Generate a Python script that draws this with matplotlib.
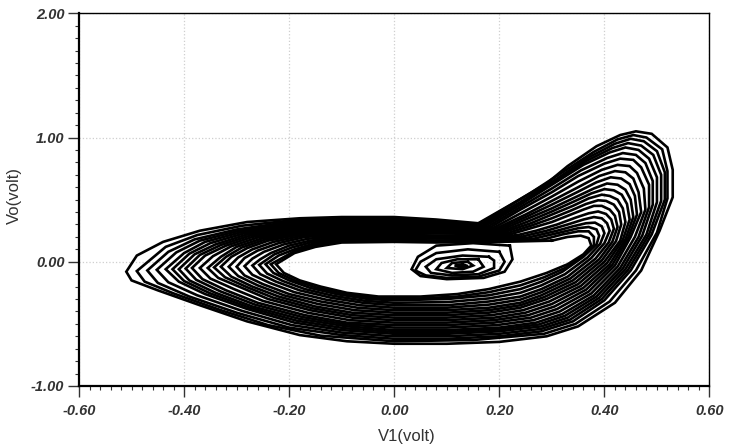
import matplotlib
matplotlib.use("Agg")
import matplotlib.pyplot as plt
from matplotlib.ticker import MultipleLocator, FormatStrFormatter

# loops of the attractor, (V1, Vo) in volt, outer to inner
loop_a = [(0.16, 0.31), (0.08, 0.34), (0.0, 0.36), (-0.10, 0.36), (-0.18, 0.35), (-0.28, 0.32),
          (-0.37, 0.25), (-0.44, 0.16), (-0.49, 0.05), (-0.51, -0.08), (-0.50, -0.15), (-0.45, -0.23),
          (-0.37, -0.35), (-0.28, -0.48), (-0.18, -0.59), (-0.09, -0.64), (0.0, -0.66), (0.10, -0.66),
          (0.20, -0.645), (0.29, -0.60), (0.35, -0.52), (0.42, -0.33), (0.47, -0.07), (0.505, 0.25),
          (0.53, 0.52), (0.53, 0.74), (0.52, 0.92), (0.49, 1.03), (0.46, 1.05), (0.43, 1.02),
          (0.385, 0.93), (0.33, 0.77), (0.29, 0.63), (0.23, 0.48), (0.16, 0.31)]
loop_ab = [(0.16, 0.30), (0.0, 0.35), (-0.10, 0.35), (-0.19, 0.335), (-0.29, 0.29), (-0.375, 0.215),
           (-0.435, 0.12), (-0.49, -0.075), (-0.475, -0.16), (-0.42, -0.255), (-0.33, -0.39),
           (-0.24, -0.51), (-0.14, -0.595), (0.0, -0.64), (0.15, -0.63), (0.285, -0.58), (0.345, -0.50),
           (0.41, -0.32), (0.46, -0.07), (0.50, 0.235), (0.52, 0.51), (0.52, 0.73), (0.51, 0.905),
           (0.48, 1.0), (0.455, 1.02), (0.425, 0.985), (0.38, 0.885), (0.32, 0.72), (0.26, 0.555),
           (0.16, 0.30)]
loop_b = [(0.16, 0.29), (0.08, 0.32), (0.0, 0.34), (-0.10, 0.34), (-0.20, 0.32), (-0.30, 0.26),
          (-0.38, 0.18), (-0.43, 0.08), (-0.47, -0.07), (-0.45, -0.17), (-0.39, -0.28), (-0.30, -0.41),
          (-0.20, -0.53), (-0.10, -0.59), (0.0, -0.62), (0.10, -0.62), (0.20, -0.60), (0.28, -0.56),
          (0.34, -0.48), (0.40, -0.31), (0.45, -0.07), (0.49, 0.22), (0.515, 0.50), (0.515, 0.72),
          (0.50, 0.89), (0.475, 0.97), (0.45, 0.99), (0.42, 0.95), (0.37, 0.84), (0.31, 0.67),
          (0.24, 0.48), (0.16, 0.29)]
loop_bc = [(0.165, 0.285), (0.0, 0.33), (-0.10, 0.33), (-0.20, 0.31), (-0.295, 0.25), (-0.37, 0.17),
           (-0.415, 0.075), (-0.452, -0.065), (-0.43, -0.165), (-0.375, -0.27), (-0.29, -0.395),
           (-0.195, -0.51), (-0.10, -0.57), (0.0, -0.60), (0.10, -0.60), (0.20, -0.58), (0.28, -0.54),
           (0.335, -0.465), (0.395, -0.30), (0.445, -0.065), (0.485, 0.22), (0.508, 0.49), (0.508, 0.70),
           (0.493, 0.86), (0.47, 0.935), (0.445, 0.955), (0.415, 0.915), (0.365, 0.81), (0.305, 0.645),
           (0.24, 0.47), (0.165, 0.285)]
loop_c = [(0.17, 0.28), (0.08, 0.31), (0.0, 0.32), (-0.10, 0.32), (-0.20, 0.30), (-0.29, 0.24),
          (-0.36, 0.16), (-0.40, 0.07), (-0.435, -0.06), (-0.41, -0.16), (-0.36, -0.26), (-0.28, -0.38),
          (-0.19, -0.49), (-0.10, -0.55), (0.0, -0.58), (0.10, -0.58), (0.20, -0.56), (0.28, -0.52),
          (0.33, -0.45), (0.39, -0.29), (0.44, -0.06), (0.48, 0.22), (0.50, 0.48), (0.50, 0.68),
          (0.485, 0.83), (0.465, 0.90), (0.44, 0.92), (0.41, 0.88), (0.36, 0.78), (0.30, 0.62),
          (0.24, 0.46), (0.17, 0.28)]
loop_cd = [(0.175, 0.275), (0.0, 0.31), (-0.10, 0.31), (-0.20, 0.29), (-0.285, 0.23), (-0.35, 0.15),
           (-0.39, 0.065), (-0.422, -0.06), (-0.40, -0.155), (-0.35, -0.255), (-0.275, -0.37),
           (-0.185, -0.475), (-0.095, -0.535), (0.0, -0.565), (0.10, -0.565), (0.20, -0.545),
           (0.275, -0.505), (0.325, -0.435), (0.385, -0.28), (0.435, -0.055), (0.472, 0.21),
           (0.492, 0.46), (0.492, 0.65), (0.478, 0.795), (0.46, 0.86), (0.435, 0.875), (0.405, 0.835),
           (0.355, 0.735), (0.30, 0.59), (0.24, 0.44), (0.175, 0.275)]
loop_d = [(0.18, 0.27), (0.08, 0.29), (0.0, 0.30), (-0.10, 0.30), (-0.20, 0.28), (-0.28, 0.22),
          (-0.34, 0.14), (-0.38, 0.06), (-0.41, -0.06), (-0.39, -0.15), (-0.34, -0.25), (-0.27, -0.36),
          (-0.18, -0.46), (-0.09, -0.52), (0.0, -0.55), (0.10, -0.55), (0.20, -0.53), (0.27, -0.49),
          (0.32, -0.42), (0.38, -0.27), (0.43, -0.05), (0.465, 0.20), (0.485, 0.44), (0.485, 0.62),
          (0.47, 0.76), (0.455, 0.82), (0.43, 0.83), (0.40, 0.79), (0.35, 0.69), (0.30, 0.56),
          (0.24, 0.42), (0.18, 0.27)]
loop_de = [(0.185, 0.265), (0.0, 0.29), (-0.10, 0.29), (-0.195, 0.27), (-0.275, 0.21), (-0.33, 0.135),
           (-0.37, 0.055), (-0.397, -0.055), (-0.377, -0.145), (-0.33, -0.24), (-0.265, -0.345),
           (-0.175, -0.445), (-0.09, -0.505), (0.0, -0.53), (0.10, -0.53), (0.195, -0.51), (0.265, -0.47),
           (0.315, -0.40), (0.375, -0.255), (0.425, -0.04), (0.458, 0.20), (0.478, 0.42), (0.475, 0.59),
           (0.462, 0.715), (0.448, 0.77), (0.425, 0.78), (0.395, 0.74), (0.35, 0.645), (0.30, 0.525),
           (0.245, 0.40), (0.185, 0.265)]
loop_e = [(0.19, 0.26), (0.08, 0.27), (0.0, 0.28), (-0.10, 0.28), (-0.19, 0.26), (-0.27, 0.20),
          (-0.32, 0.13), (-0.36, 0.05), (-0.385, -0.05), (-0.365, -0.14), (-0.32, -0.23), (-0.26, -0.33),
          (-0.17, -0.43), (-0.09, -0.49), (0.0, -0.51), (0.10, -0.51), (0.19, -0.49), (0.26, -0.45),
          (0.31, -0.38), (0.37, -0.24), (0.42, -0.03), (0.45, 0.20), (0.47, 0.40), (0.465, 0.56),
          (0.455, 0.67), (0.44, 0.72), (0.42, 0.73), (0.39, 0.69), (0.35, 0.60), (0.30, 0.49),
          (0.25, 0.38), (0.19, 0.26)]
loop_ef = [(0.195, 0.255), (0.0, 0.27), (-0.10, 0.27), (-0.185, 0.25), (-0.26, 0.195), (-0.31, 0.125),
           (-0.345, 0.045), (-0.37, -0.05), (-0.35, -0.135), (-0.305, -0.22), (-0.25, -0.315),
           (-0.165, -0.41), (-0.085, -0.47), (0.0, -0.49), (0.10, -0.49), (0.19, -0.47), (0.255, -0.43),
           (0.305, -0.36), (0.365, -0.225), (0.415, -0.025), (0.445, 0.19), (0.462, 0.38), (0.458, 0.53),
           (0.448, 0.625), (0.432, 0.67), (0.412, 0.68), (0.385, 0.64), (0.348, 0.56), (0.30, 0.46),
           (0.25, 0.36), (0.195, 0.255)]
loop_f = [(0.20, 0.25), (0.08, 0.25), (0.0, 0.26), (-0.10, 0.26), (-0.18, 0.24), (-0.25, 0.19),
          (-0.30, 0.12), (-0.33, 0.04), (-0.355, -0.05), (-0.335, -0.13), (-0.29, -0.21), (-0.24, -0.30),
          (-0.16, -0.39), (-0.08, -0.45), (0.0, -0.47), (0.10, -0.47), (0.19, -0.45), (0.25, -0.41),
          (0.30, -0.34), (0.36, -0.21), (0.41, -0.02), (0.44, 0.18), (0.455, 0.36), (0.45, 0.50),
          (0.44, 0.58), (0.425, 0.62), (0.405, 0.63), (0.38, 0.59), (0.345, 0.52), (0.30, 0.43),
          (0.25, 0.34), (0.20, 0.25)]
loop_fg = [(0.205, 0.245), (0.0, 0.25), (-0.10, 0.25), (-0.18, 0.23), (-0.245, 0.18), (-0.29, 0.115),
           (-0.32, 0.04), (-0.343, -0.045), (-0.322, -0.125), (-0.28, -0.205), (-0.23, -0.29),
           (-0.155, -0.375), (-0.08, -0.43), (0.0, -0.45), (0.10, -0.45), (0.185, -0.43), (0.245, -0.39),
           (0.295, -0.32), (0.355, -0.195), (0.405, -0.01), (0.435, 0.175), (0.448, 0.34), (0.443, 0.465),
           (0.433, 0.54), (0.418, 0.575), (0.40, 0.585), (0.375, 0.55), (0.342, 0.485), (0.30, 0.405),
           (0.255, 0.325), (0.205, 0.245)]
loop_g = [(0.21, 0.24), (0.08, 0.23), (0.0, 0.24), (-0.10, 0.24), (-0.18, 0.22), (-0.24, 0.17),
          (-0.28, 0.11), (-0.31, 0.04), (-0.33, -0.04), (-0.31, -0.12), (-0.27, -0.20), (-0.22, -0.28),
          (-0.15, -0.36), (-0.08, -0.41), (0.0, -0.43), (0.10, -0.43), (0.18, -0.41), (0.24, -0.37),
          (0.29, -0.30), (0.35, -0.18), (0.40, 0.00), (0.43, 0.17), (0.44, 0.32), (0.435, 0.43),
          (0.425, 0.50), (0.41, 0.53), (0.395, 0.54), (0.37, 0.51), (0.34, 0.45), (0.30, 0.38),
          (0.26, 0.31), (0.21, 0.24)]
loop_gh = [(0.215, 0.23), (0.0, 0.23), (-0.10, 0.23), (-0.175, 0.21), (-0.23, 0.16), (-0.27, 0.10),
           (-0.297, 0.035), (-0.315, -0.04), (-0.297, -0.115), (-0.26, -0.19), (-0.21, -0.27),
           (-0.145, -0.34), (-0.075, -0.39), (0.0, -0.41), (0.10, -0.41), (0.18, -0.39), (0.24, -0.35),
           (0.285, -0.285), (0.345, -0.165), (0.395, 0.01), (0.422, 0.165), (0.432, 0.30), (0.428, 0.40),
           (0.418, 0.46), (0.403, 0.49), (0.388, 0.495), (0.365, 0.465), (0.335, 0.41), (0.30, 0.35),
           (0.26, 0.29), (0.215, 0.23)]
loop_h = [(0.22, 0.22), (0.08, 0.21), (0.0, 0.22), (-0.10, 0.22), (-0.17, 0.20), (-0.22, 0.15),
          (-0.26, 0.09), (-0.285, 0.03), (-0.30, -0.04), (-0.285, -0.11), (-0.25, -0.18), (-0.20, -0.26),
          (-0.14, -0.32), (-0.07, -0.37), (0.0, -0.39), (0.10, -0.39), (0.18, -0.37), (0.24, -0.33),
          (0.28, -0.27), (0.34, -0.15), (0.39, 0.02), (0.415, 0.16), (0.425, 0.28), (0.42, 0.37),
          (0.41, 0.42), (0.395, 0.45), (0.38, 0.45), (0.36, 0.42), (0.33, 0.37), (0.30, 0.32),
          (0.26, 0.27), (0.22, 0.22)]
loop_hi = [(0.23, 0.21), (0.0, 0.21), (-0.10, 0.21), (-0.165, 0.185), (-0.21, 0.14), (-0.248, 0.08),
           (-0.27, 0.025), (-0.285, -0.035), (-0.27, -0.105), (-0.237, -0.17), (-0.19, -0.245),
           (-0.13, -0.305), (-0.065, -0.35), (0.0, -0.37), (0.10, -0.37), (0.18, -0.345), (0.24, -0.305),
           (0.28, -0.245), (0.335, -0.135), (0.383, 0.025), (0.408, 0.155), (0.418, 0.265), (0.413, 0.34),
           (0.403, 0.385), (0.388, 0.405), (0.37, 0.39), (0.345, 0.355), (0.31, 0.30), (0.27, 0.25),
           (0.23, 0.21)]
loop_i = [(0.24, 0.20), (0.08, 0.19), (0.0, 0.20), (-0.10, 0.20), (-0.16, 0.17), (-0.20, 0.13),
          (-0.235, 0.07), (-0.255, 0.02), (-0.27, -0.03), (-0.255, -0.10), (-0.225, -0.16), (-0.18, -0.23),
          (-0.12, -0.29), (-0.06, -0.33), (0.0, -0.35), (0.10, -0.35), (0.18, -0.32), (0.24, -0.28),
          (0.28, -0.22), (0.33, -0.12), (0.375, 0.03), (0.40, 0.15), (0.41, 0.25), (0.405, 0.31),
          (0.395, 0.35), (0.38, 0.36), (0.36, 0.34), (0.33, 0.30), (0.29, 0.25), (0.24, 0.20)]
loop_ij = [(0.25, 0.19), (0.0, 0.19), (-0.10, 0.19), (-0.155, 0.16), (-0.195, 0.115), (-0.228, 0.06),
           (-0.257, -0.025), (-0.242, -0.095), (-0.212, -0.155), (-0.17, -0.22), (-0.115, -0.275),
           (-0.055, -0.315), (0.0, -0.33), (0.10, -0.325), (0.18, -0.295), (0.24, -0.25), (0.28, -0.19),
           (0.325, -0.10), (0.368, 0.035), (0.392, 0.145), (0.40, 0.23), (0.395, 0.285), (0.382, 0.315),
           (0.365, 0.31), (0.34, 0.285), (0.31, 0.25), (0.25, 0.19)]
loop_j = [(0.26, 0.18), (0.08, 0.17), (0.0, 0.18), (-0.10, 0.18), (-0.15, 0.15), (-0.19, 0.10),
          (-0.22, 0.05), (-0.245, -0.02), (-0.23, -0.09), (-0.20, -0.15), (-0.16, -0.21), (-0.11, -0.26),
          (-0.05, -0.30), (0.0, -0.31), (0.10, -0.30), (0.18, -0.27), (0.24, -0.22), (0.28, -0.16),
          (0.32, -0.08), (0.36, 0.04), (0.385, 0.14), (0.39, 0.21), (0.385, 0.26), (0.37, 0.28),
          (0.35, 0.27), (0.32, 0.24), (0.29, 0.21), (0.26, 0.18)]
loop_jk = [(0.28, 0.175), (0.0, 0.17), (-0.10, 0.167), (-0.15, 0.135), (-0.19, 0.085), (-0.235, -0.02),
           (-0.22, -0.09), (-0.19, -0.15), (-0.15, -0.205), (-0.10, -0.255), (-0.04, -0.29), (0.05, -0.295),
           (0.12, -0.28), (0.18, -0.245), (0.24, -0.19), (0.285, -0.125), (0.325, -0.05), (0.36, 0.05),
           (0.38, 0.135), (0.38, 0.20), (0.37, 0.245), (0.35, 0.245), (0.32, 0.22), (0.28, 0.175)]
loop_k = [(0.30, 0.17), (0.20, 0.16), (0.08, 0.155), (0.0, 0.16), (-0.10, 0.155), (-0.15, 0.12),
          (-0.19, 0.07), (-0.225, -0.02), (-0.21, -0.09), (-0.18, -0.15), (-0.14, -0.20), (-0.09, -0.25),
          (-0.03, -0.28), (0.05, -0.28), (0.12, -0.26), (0.18, -0.22), (0.24, -0.16), (0.29, -0.09),
          (0.33, -0.02), (0.36, 0.06), (0.375, 0.13), (0.37, 0.19), (0.355, 0.21), (0.33, 0.20),
          (0.30, 0.17)]

# small spiral inside the hole, the outer ring touching the upper band
spiral_0 = [(0.22, 0.13), (0.15, 0.15), (0.08, 0.13), (0.045, 0.04), (0.033, -0.06), (0.05, -0.115),
            (0.10, -0.14), (0.17, -0.13), (0.21, -0.08), (0.225, 0.02), (0.22, 0.13)]
spiral_1 = [(0.20, 0.08), (0.14, 0.10), (0.08, 0.07), (0.05, 0.0), (0.04, -0.07), (0.06, -0.11),
            (0.10, -0.13), (0.16, -0.12), (0.20, -0.07), (0.21, 0.0), (0.20, 0.08)]
spiral_2 = [(0.18, 0.04), (0.13, 0.05), (0.08, 0.02), (0.06, -0.04), (0.07, -0.09), (0.11, -0.11),
            (0.16, -0.10), (0.19, -0.05), (0.19, 0.01), (0.18, 0.04)]
spiral_3 = [(0.16, 0.02), (0.12, 0.02), (0.09, -0.01), (0.08, -0.06), (0.11, -0.09), (0.15, -0.08),
            (0.17, -0.04), (0.16, 0.02)]
spiral_4 = [(0.14, 0.0), (0.11, -0.01), (0.10, -0.05), (0.13, -0.06), (0.15, -0.03), (0.14, 0.0)]
spiral_5 = [(0.13, -0.02), (0.115, -0.03), (0.125, -0.045), (0.14, -0.035), (0.13, -0.02)]

loops = [loop_a, loop_ab, loop_b, loop_bc, loop_c, loop_cd, loop_d, loop_de, loop_e, loop_ef,
         loop_f, loop_fg, loop_g, loop_gh, loop_h, loop_hi, loop_i, loop_ij, loop_j, loop_jk, loop_k]
spirals = [spiral_0, spiral_1, spiral_2, spiral_3, spiral_4, spiral_5]

x_ticks = [-0.60, -0.40, -0.20, 0.00, 0.20, 0.40, 0.60]
y_ticks = [-1.00, 0.00, 1.00, 2.00]

fig = plt.figure(figsize=(7.35, 4.45), dpi=100)
ax = fig.add_axes([0.1075, 0.1326, 0.8578, 0.8375])

for pts in loops + spirals:
    ax.plot([p[0] for p in pts], [p[1] for p in pts], color="black", lw=1.9,
            solid_joinstyle="miter")

ax.set_xlim(-0.6, 0.6)
ax.set_ylim(-1.0, 2.0)
ax.set_xticks(x_ticks)
ax.set_yticks(y_ticks)
ax.xaxis.set_minor_locator(MultipleLocator(0.02))
ax.yaxis.set_minor_locator(MultipleLocator(0.1))
ax.xaxis.set_major_formatter(FormatStrFormatter("%.2f"))
ax.yaxis.set_major_formatter(FormatStrFormatter("%.2f"))

ax.grid(True, which="major", color="#cfcfcf", linestyle=":", lw=0.9)
ax.set_axisbelow(True)

ax.tick_params(which="major", direction="out", length=8, width=1.0, color="#333333")
ax.tick_params(which="minor", direction="out", length=3, width=0.8, color="#333333")
ax.tick_params(axis="x", pad=5)
ax.tick_params(axis="y", pad=2.5)
for lab in ax.get_xticklabels() + ax.get_yticklabels():
    lab.set_fontfamily("Liberation Sans")
    lab.set_fontweight("bold")
    lab.set_fontstyle("italic")
    lab.set_fontsize(10.5)
    lab.set_color("#333333")

for side in ["left", "bottom"]:
    ax.spines[side].set_linewidth(1.6)
for side in ["top", "right"]:
    ax.spines[side].set_linewidth(1.0)

ax.set_xlabel("V1(volt)", family="Liberation Sans", fontsize=12, color="#333333")
ax.set_ylabel("Vo(volt)", family="Liberation Sans", fontsize=12, color="#333333")
ax.xaxis.set_label_coords(0.52, -0.115)
ax.yaxis.set_label_coords(-0.09, 0.51)

fig.savefig("out.png", dpi=100)
